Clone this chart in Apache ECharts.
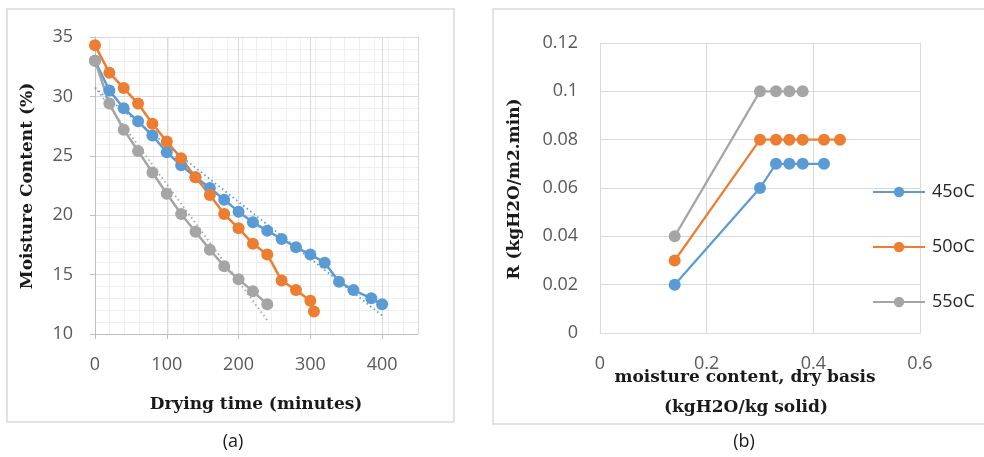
<!DOCTYPE html>
<html>
<head>
<meta charset="utf-8">
<script src="https://cdn.jsdelivr.net/npm/echarts@6/dist/echarts.min.js"></script>
<style>
  html, body { margin: 0; background: #fff; }
  #chart { width: 984px; height: 457px; }
</style>
</head>
<body>
<div id="chart"></div>
<script>
// (a) drying curves
var time45 = [0, 20, 40, 60, 80, 100, 120, 140, 160, 180, 200, 220, 240, 260, 280, 300, 320, 340, 360, 385, 400]
var moist45 = [33, 30.5, 29.0, 27.9, 26.7, 25.3, 24.2, 23.2, 22.3, 21.3, 20.3, 19.4, 18.7, 18.0, 17.3, 16.7, 16.0, 14.4, 13.7, 13.0, 12.5]
var time50 = [0, 20, 40, 60, 80, 100, 120, 140, 160, 180, 200, 220, 240, 260, 280, 300, 305]
var moist50 = [34.3, 32.0, 30.7, 29.4, 27.7, 26.2, 24.8, 23.2, 21.7, 20.1, 18.9, 17.6, 16.7, 14.5, 13.7, 12.8, 11.9]
var time55 = [0, 20, 40, 60, 80, 100, 120, 140, 160, 180, 200, 220, 240]
var moist55 = [33.0, 29.4, 27.2, 25.4, 23.6, 21.8, 20.1, 18.6, 17.1, 15.7, 14.6, 13.6, 12.5]

// (b) drying rate
var mc45 = [0.14, 0.30, 0.33, 0.355, 0.38, 0.42]
var rate45 = [0.02, 0.06, 0.07, 0.07, 0.07, 0.07]
var mc50 = [0.14, 0.30, 0.33, 0.355, 0.38, 0.42, 0.45]
var rate50 = [0.03, 0.08, 0.08, 0.08, 0.08, 0.08, 0.08]
var mc55 = [0.14, 0.30, 0.33, 0.355, 0.38]
var rate55 = [0.04, 0.1, 0.1, 0.1, 0.1]

var names = ['45oC', '50oC', '55oC']
var colors = ['#5B9BD5', '#ED7D31', '#A5A5A5']

var tickFont = 'Open Sans'
var nameFont = 'bold 17px "DejaVu Serif"'

function zip(xs, ys) {
  return xs.map(function (x, i) { return [x, ys[i]] })
}

// least squares line over the data range, like an Excel linear trendline
function trend(xs, ys) {
  var n = xs.length
  var mx = 0, my = 0
  for (var i = 0; i < n; i++) { mx += xs[i]; my += ys[i] }
  mx /= n; my /= n
  var sxy = 0, sxx = 0
  for (var j = 0; j < n; j++) {
    sxy += (xs[j] - mx) * (ys[j] - my)
    sxx += (xs[j] - mx) * (xs[j] - mx)
  }
  var b = sxy / sxx
  var a = my - b * mx
  return [[xs[0], a + b * xs[0]], [xs[n - 1], a + b * xs[n - 1]]]
}

function curveA(name, xs, ys, color) {
  return {
    name: name,
    type: 'line',
    xAxisIndex: 0,
    yAxisIndex: 0,
    data: zip(xs, ys),
    symbol: 'circle',
    symbolSize: 12,
    lineStyle: { color: color, width: 2.5 },
    itemStyle: { color: color },
    animation: false
  }
}

function trendA(name, xs, ys, color) {
  return {
    name: name,
    type: 'line',
    xAxisIndex: 0,
    yAxisIndex: 0,
    data: trend(xs, ys),
    symbol: 'none',
    z: 3,
    lineStyle: { color: color, width: 1.8, type: [1.5, 3] },
    animation: false
  }
}

function curveB(name, xs, ys, color) {
  return {
    name: name,
    type: 'line',
    xAxisIndex: 2,
    yAxisIndex: 1,
    data: zip(xs, ys),
    symbol: 'circle',
    symbolSize: 12,
    lineStyle: { color: color, width: 2.2 },
    itemStyle: { color: color },
    animation: false
  }
}

var chart = echarts.init(document.getElementById('chart'))

chart.setOption({
  backgroundColor: '#fff',
  animation: false,
  grid: [
    { left: 95, top: 37, width: 323, height: 297 },
    { left: 600, top: 43, width: 320, height: 290 }
  ],
  legend: {
    data: names,
    orient: 'vertical',
    left: 867,
    top: 178,
    itemWidth: 52,
    itemHeight: 13,
    itemGap: 37,
    textStyle: { fontFamily: tickFont, fontSize: 18, color: '#262626', padding: [0, 0, 0, 2] }
  },
  xAxis: [
    {
      type: 'value',
      gridIndex: 0,
      min: 0,
      max: 450,
      interval: 100,
      z: 1,
      axisLine: { lineStyle: { color: '#bfbfbf' } },
      axisTick: { show: true, length: 5, lineStyle: { color: '#bfbfbf' } },
      axisLabel: {
        margin: 22,
        fontFamily: tickFont,
        fontSize: 18,
        color: '#595959',
        showMaxLabel: false
      },
      splitLine: { lineStyle: { color: '#d9d9d9' } }
    },
    {
      // minor gridlines every 20 minutes
      type: 'value',
      gridIndex: 0,
      position: 'top',
      min: 0,
      max: 440,
      interval: 20,
      z: 0,
      axisLine: { show: false },
      axisTick: { show: false },
      axisLabel: { show: false },
      splitLine: { lineStyle: { color: '#efefef' } }
    },
    {
      type: 'value',
      gridIndex: 1,
      min: 0,
      max: 0.6,
      interval: 0.2,
      axisLine: { lineStyle: { color: '#d9d9d9' } },
      axisTick: { show: false },
      axisLabel: { margin: 22, fontFamily: tickFont, fontSize: 18, color: '#595959' },
      splitLine: { lineStyle: { color: '#d9d9d9' } }
    }
  ],
  yAxis: [
    {
      type: 'value',
      gridIndex: 0,
      min: 10,
      max: 35,
      interval: 5,
      z: 1,
      axisLine: { show: true, lineStyle: { color: '#bfbfbf' } },
      axisTick: { show: true, length: 5, lineStyle: { color: '#bfbfbf' } },
      axisLabel: { margin: 22, fontFamily: tickFont, fontSize: 18, color: '#595959' },
      splitLine: { lineStyle: { color: '#d9d9d9' } },
      minorTick: { show: false, splitNumber: 5 },
      minorSplitLine: { show: true, lineStyle: { color: '#efefef' } }
    },
    {
      type: 'value',
      gridIndex: 1,
      min: 0,
      max: 0.12,
      interval: 0.02,
      axisLine: { show: true, lineStyle: { color: '#d9d9d9' } },
      axisTick: { show: false },
      axisLabel: { margin: 22, fontFamily: tickFont, fontSize: 18, color: '#595959' },
      splitLine: { lineStyle: { color: '#d9d9d9' } }
    }
  ],
  graphic: [
    { type: 'rect', shape: { x: 7, y: 9, width: 447, height: 413 }, style: { fill: 'none', stroke: '#d9d9d9', lineWidth: 1.5 } },
    { type: 'rect', shape: { x: 493, y: 9, width: 500, height: 415 }, style: { fill: 'none', stroke: '#d9d9d9', lineWidth: 1.5 } },
    { type: 'text', x: 28, y: 186, rotation: Math.PI / 2, style: { text: 'Moisture Content (%)', font: nameFont, fill: '#1a1a1a', align: 'center', verticalAlign: 'middle' } },
    { type: 'text', x: 256, y: 405, style: { text: 'Drying time (minutes)', font: nameFont, fill: '#1a1a1a', align: 'center', verticalAlign: 'middle' } },
    { type: 'text', x: 515, y: 189, rotation: Math.PI / 2, style: { text: 'R (kgH2O/m2.min)', font: nameFont, fill: '#1a1a1a', align: 'center', verticalAlign: 'middle' } },
    { type: 'text', x: 745, y: 378, style: { text: 'moisture content, dry basis', font: nameFont, fill: '#1a1a1a', align: 'center', verticalAlign: 'middle' } },
    { type: 'text', x: 746, y: 408, style: { text: '(kgH2O/kg solid)', font: nameFont, fill: '#1a1a1a', align: 'center', verticalAlign: 'middle' } },
    { type: 'text', x: 233, y: 442, style: { text: '(a)', font: '18px "Open Sans"', fill: '#1a1a1a', align: 'center', verticalAlign: 'middle' } },
    { type: 'text', x: 744, y: 442, style: { text: '(b)', font: '18px "Open Sans"', fill: '#1a1a1a', align: 'center', verticalAlign: 'middle' } }
  ],
  series: [
    curveA('a45', time45, moist45, colors[0]),
    curveA('a50', time50, moist50, colors[1]),
    curveA('a55', time55, moist55, colors[2]),
    trendA('t45', time45, moist45, colors[0]),
    trendA('t55', time55, moist55, colors[2]),
    curveB(names[0], mc45, rate45, colors[0]),
    curveB(names[1], mc50, rate50, colors[1]),
    curveB(names[2], mc55, rate55, colors[2])
  ]
})
</script>
</body>
</html>
